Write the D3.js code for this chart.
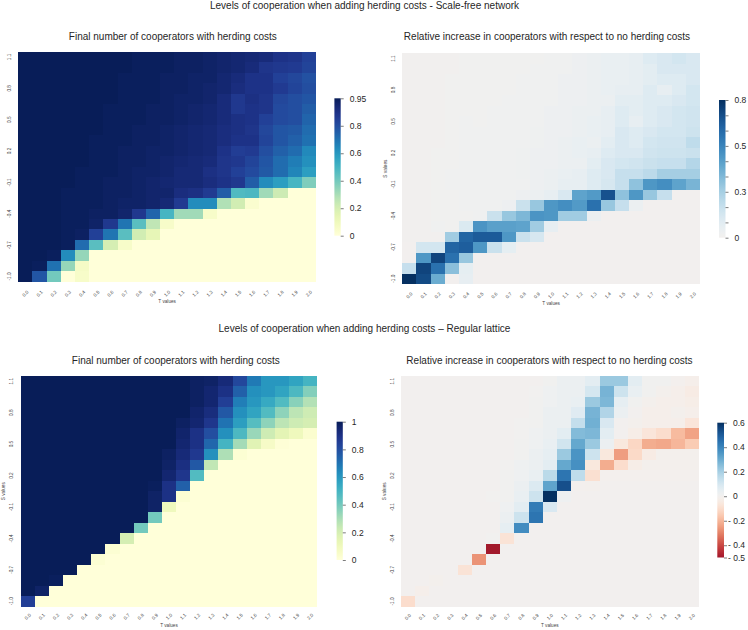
<!DOCTYPE html>
<html><head><meta charset="utf-8">
<script src="https://cdn.jsdelivr.net/npm/d3@7"></script>
<style>
body{margin:0;background:#fff}
svg{display:block}
text{font-family:"Liberation Sans",Arial,Helvetica,sans-serif}
</style>
</head><body>
<svg id="chart" width="748" height="630"></svg>
<script>
// ---------- axes categories ----------
const T_VALUES = ["0.0","0.1","0.2","0.3","0.4","0.5","0.6","0.7","0.8","0.9","1.0","1.1","1.2","1.3","1.4","1.5","1.6","1.7","1.8","1.9","2.0"];
const S_VALUES = ["1.1","1.0","0.9","0.8","0.7","0.6","0.5","0.4","0.3","0.2","0.1","0.0","-0.1","-0.2","-0.3","-0.4","-0.5","-0.6","-0.7","-0.8","-0.9","-1.0"];
const S_TICKS = ["1.1","0.8","0.5","0.2","-0.1","-0.4","-0.7","-1.0"];

// ---------- titles ----------
const SUPTITLE_SF = "Levels of cooperation when adding herding costs - Scale-free network";
const SUPTITLE_LAT = "Levels of cooperation when adding herding costs \u2013 Regular lattice";
const TITLE_FINAL = "Final number of cooperators with herding costs";
const TITLE_REL = "Relative increase in cooperators with respect to no herding costs";

// ---------- colorbar ticks ----------
const CB_SF_FINAL_TICKS = [0, 0.19, 0.38, 0.57, 0.76, 0.95];
const CB_SF_FINAL_LABELS = ["0","0.2","0.4","0.6","0.8","0.95"];
const CB_SF_REL_TICKS = [0, 0.0889, 0.1778, 0.2667, 0.3556, 0.4444, 0.5333, 0.6222, 0.7111, 0.8];
const CB_SF_REL_LABELS = ["0","","","0.3","","","0.5","","","0.8"];
const CB_LAT_FINAL_TICKS = [0, 0.2, 0.4, 0.6, 0.8, 1];
const CB_LAT_FINAL_LABELS = ["0","0.2","0.4","0.6","0.8","1"];
const CB_LAT_REL_TICKS = [-0.5, -0.4, -0.2, 0, 0.2, 0.4, 0.6];
const CB_LAT_REL_LABELS = ["- 0.5","- 0.4","- 0.2","0","0.2","0.4","0.6"];

// ---------- data (rows: S from 1.1 down to -1.0, cols: T 0.0..2.0) ----------
const sfFinal = [
[0.95,0.95,0.95,0.95,0.95,0.95,0.95,0.95,0.94,0.94,0.94,0.93,0.93,0.92,0.91,0.90,0.89,0.88,0.85,0.84,0.80],
[0.95,0.95,0.95,0.95,0.95,0.95,0.95,0.95,0.94,0.94,0.94,0.93,0.93,0.92,0.91,0.90,0.88,0.84,0.83,0.82,0.79],
[0.95,0.95,0.95,0.95,0.95,0.95,0.95,0.94,0.94,0.94,0.93,0.93,0.92,0.92,0.90,0.88,0.85,0.85,0.80,0.78,0.75],
[0.95,0.95,0.95,0.95,0.95,0.95,0.95,0.94,0.94,0.94,0.93,0.93,0.92,0.91,0.90,0.87,0.85,0.85,0.82,0.79,0.76],
[0.95,0.95,0.95,0.95,0.95,0.95,0.95,0.94,0.94,0.94,0.93,0.92,0.92,0.91,0.88,0.83,0.86,0.84,0.78,0.76,0.74],
[0.95,0.95,0.95,0.95,0.95,0.95,0.94,0.94,0.94,0.93,0.93,0.92,0.91,0.90,0.88,0.83,0.85,0.84,0.77,0.76,0.72],
[0.95,0.95,0.95,0.95,0.95,0.95,0.94,0.94,0.94,0.93,0.93,0.92,0.91,0.90,0.88,0.86,0.85,0.80,0.77,0.76,0.70],
[0.95,0.95,0.95,0.95,0.95,0.95,0.94,0.94,0.93,0.93,0.92,0.91,0.90,0.89,0.87,0.86,0.84,0.78,0.74,0.73,0.68],
[0.95,0.95,0.95,0.95,0.95,0.94,0.94,0.94,0.93,0.93,0.92,0.91,0.90,0.89,0.87,0.85,0.85,0.79,0.74,0.71,0.67],
[0.95,0.95,0.95,0.95,0.95,0.94,0.94,0.93,0.93,0.92,0.92,0.91,0.90,0.89,0.85,0.81,0.82,0.76,0.71,0.68,0.61],
[0.95,0.95,0.95,0.95,0.95,0.94,0.94,0.93,0.93,0.92,0.91,0.90,0.89,0.88,0.84,0.83,0.79,0.74,0.68,0.64,0.59],
[0.95,0.95,0.95,0.95,0.94,0.94,0.94,0.93,0.92,0.92,0.91,0.89,0.89,0.86,0.84,0.80,0.77,0.73,0.68,0.62,0.55],
[0.95,0.95,0.95,0.95,0.94,0.94,0.93,0.93,0.92,0.91,0.90,0.89,0.89,0.87,0.85,0.83,0.72,0.60,0.55,0.47,0.36],
[0.95,0.95,0.95,0.94,0.94,0.94,0.93,0.93,0.92,0.91,0.91,0.87,0.86,0.82,0.72,0.45,0.46,0.30,0.21,0,0],
[0.95,0.95,0.95,0.94,0.94,0.94,0.93,0.92,0.92,0.91,0.89,0.82,0.60,0.60,0.27,0.20,0.03,0,0,0,0],
[0.95,0.95,0.95,0.94,0.94,0.93,0.93,0.91,0.83,0.70,0.47,0.30,0.30,0.05,0,0,0,0,0,0,0],
[0.95,0.95,0.95,0.94,0.94,0.92,0.83,0.66,0.43,0.24,0.05,0,0,0,0,0,0,0,0,0,0],
[0.95,0.95,0.95,0.94,0.93,0.80,0.66,0.43,0.20,0.13,0,0,0,0,0,0,0,0,0,0,0],
[0.95,0.95,0.95,0.94,0.68,0.43,0.19,0.05,0,0,0,0,0,0,0,0,0,0,0,0,0],
[0.95,0.95,0.94,0.60,0.32,0,0,0,0,0,0,0,0,0,0,0,0,0,0,0,0],
[0.95,0.94,0.67,0.32,0.06,0,0,0,0,0,0,0,0,0,0,0,0,0,0,0,0],
[0.95,0.74,0.38,0,0.05,0,0,0,0,0,0,0,0,0,0,0,0,0,0,0,0]
];

const sfRelative = [
[0.005,0.005,0.005,0.005,0.01,0.01,0.01,0.01,0.01,0.01,0.015,0.02,0.03,0.04,0.05,0.05,0.06,0.10,0.12,0.14,0.12],
[0.005,0.005,0.005,0.005,0.01,0.01,0.01,0.01,0.01,0.015,0.02,0.02,0.03,0.04,0.05,0.05,0.06,0.08,0.12,0.12,0.12],
[0.005,0.005,0.005,0.01,0.01,0.01,0.01,0.01,0.015,0.02,0.02,0.03,0.03,0.04,0.05,0.05,0.06,0.08,0.10,0.10,0.12],
[0.005,0.005,0.005,0.01,0.01,0.01,0.01,0.01,0.015,0.02,0.02,0.03,0.03,0.04,0.05,0.06,0.06,0.10,0.06,0.10,0.14],
[0.005,0.005,0.005,0.01,0.01,0.01,0.01,0.015,0.015,0.02,0.02,0.03,0.03,0.04,0.04,0.08,0.08,0.10,0.10,0.12,0.14],
[0.005,0.005,0.005,0.01,0.01,0.01,0.015,0.015,0.02,0.02,0.03,0.03,0.04,0.04,0.06,0.10,0.08,0.10,0.12,0.14,0.15],
[0.005,0.005,0.005,0.01,0.015,0.01,0.015,0.015,0.02,0.02,0.03,0.03,0.04,0.05,0.06,0.10,0.06,0.10,0.12,0.14,0.15],
[0.005,0.005,0.005,0.01,0.015,0.015,0.015,0.02,0.02,0.025,0.03,0.03,0.04,0.05,0.06,0.12,0.10,0.12,0.14,0.14,0.16],
[0.005,0.005,0.005,0.01,0.015,0.015,0.015,0.02,0.02,0.025,0.03,0.04,0.05,0.04,0.08,0.12,0.10,0.14,0.15,0.15,0.20],
[0.005,0.005,0.01,0.01,0.015,0.015,0.02,0.02,0.025,0.03,0.03,0.04,0.05,0.06,0.10,0.12,0.12,0.15,0.16,0.16,0.17],
[0.005,0.005,0.01,0.01,0.015,0.015,0.02,0.02,0.025,0.03,0.03,0.04,0.04,0.08,0.12,0.14,0.15,0.17,0.18,0.18,0.23],
[0.005,0.005,0.01,0.015,0.015,0.02,0.02,0.02,0.025,0.03,0.04,0.05,0.06,0.10,0.12,0.18,0.18,0.21,0.27,0.27,0.27],
[0.005,0.005,0.01,0.015,0.015,0.02,0.02,0.02,0.02,0.03,0.04,0.06,0.06,0.10,0.13,0.18,0.32,0.47,0.50,0.43,0.37],
[0.005,0.005,0.01,0.01,0.015,0.015,0.02,0.02,0.03,0.04,0.06,0.12,0.43,0.46,0.70,0.32,0.47,0.30,0.18,0,0],
[0.005,0.005,0.01,0.01,0.015,0.015,0.02,0.03,0.17,0.30,0.47,0.50,0.46,0.60,0.30,0.18,0.04,0,0,0,0],
[0.005,0.005,0.01,0.01,0.01,0.02,0.17,0.30,0.36,0.48,0.47,0.28,0.28,0.04,0,0,0,0,0,0,0],
[0.005,0.005,0.02,0.01,0.11,0.48,0.44,0.44,0.43,0.28,0.06,0,0,0,0,0,0,0,0,0,0],
[0.005,0.005,0.005,0.28,0.64,0.67,0.67,0.47,0.17,0.13,0,0,0,0,0,0,0,0,0,0,0],
[0,0.14,0.14,0.64,0.66,0.47,0.17,0.07,0,0,0,0,0,0,0,0,0,0,0,0,0],
[0,0.47,0.74,0.60,0.30,0,0,0,0,0,0,0,0,0,0,0,0,0,0,0,0],
[0.18,0.74,0.60,0.33,0.07,0,0,0,0,0,0,0,0,0,0,0,0,0,0,0,0],
[0.80,0.72,0.40,0,0.06,0,0,0,0,0,0,0,0,0,0,0,0,0,0,0,0]
];

const latFinal = [
[1,1,1,1,1,1,1,1,1,1,1,1,0.98,0.97,0.93,0.82,0.68,0.60,0.60,0.56,0.50],
[1,1,1,1,1,1,1,1,1,1,1,1,0.98,0.95,0.90,0.75,0.62,0.60,0.56,0.48,0.37],
[1,1,1,1,1,1,1,1,1,1,1,1,0.98,0.95,0.85,0.67,0.60,0.54,0.47,0.36,0.28],
[1,1,1,1,1,1,1,1,1,1,1,1,0.96,0.92,0.77,0.62,0.56,0.47,0.35,0.26,0.22],
[1,1,1,1,1,1,1,1,1,1,1,0.98,0.95,0.88,0.70,0.58,0.46,0.35,0.26,0.22,0.20],
[1,1,1,1,1,1,1,1,1,1,1,0.96,0.90,0.80,0.62,0.48,0.33,0.22,0.15,0.10,0.03],
[1,1,1,1,1,1,1,1,1,1,1,0.95,0.90,0.73,0.50,0.31,0.16,0.06,0.01,0,0],
[1,1,1,1,1,1,1,1,1,1,0.98,0.93,0.87,0.62,0.29,0.02,0,0,0,0,0],
[1,1,1,1,1,1,1,1,1,1,0.97,0.91,0.77,0.25,0,0,0,0,0,0,0],
[1,1,1,1,1,1,1,1,1,1,0.95,0.88,0.47,0,0,0,0,0,0,0,0],
[1,1,1,1,1,1,1,1,1,0.99,0.90,0.75,0,0,0,0,0,0,0,0,0],
[1,1,1,1,1,1,1,1,1,0.97,0.90,0.02,0,0,0,0,0,0,0,0,0],
[1,1,1,1,1,1,1,1,1,0.97,0.10,0,0,0,0,0,0,0,0,0,0],
[1,1,1,1,1,1,1,1,1,0.40,0,0,0,0,0,0,0,0,0,0,0],
[1,1,1,1,1,1,1,1,0.40,0,0,0,0,0,0,0,0,0,0,0,0],
[1,1,1,1,1,1,1,0.20,0,0,0,0,0,0,0,0,0,0,0,0,0],
[1,1,1,1,1,1,0.02,0,0,0,0,0,0,0,0,0,0,0,0,0,0],
[1,1,1,1,1,0.02,0,0,0,0,0,0,0,0,0,0,0,0,0,0,0],
[1,1,1,1,0,0,0,0,0,0,0,0,0,0,0,0,0,0,0,0,0],
[1,1,0.99,0,0,0,0,0,0,0,0,0,0,0,0,0,0,0,0,0,0],
[1,0.97,0,0,0,0,0,0,0,0,0,0,0,0,0,0,0,0,0,0,0],
[0.85,0,0,0,0,0,0,0,0,0,0,0,0,0,0,0,0,0,0,0,0]
];

const latRelative = [
[0,0,0,0,0,0,0,0,0,0,0.01,0.03,0.03,0.06,0.22,0.22,0.06,0.01,0.01,-0.005,-0.02],
[0,0,0,0,0,0,0,0,0,0.005,0.02,0.03,0.03,0.10,0.28,0.12,0.04,0.01,-0.01,-0.02,-0.04],
[0,0,0,0,0,0,0,0,0,0.01,0.02,0.03,0.04,0.22,0.27,0.05,0.01,-0.01,-0.02,-0.02,-0.03],
[0,0,0,0,0,0,0,0,0,0.01,0.03,0.03,0.07,0.28,0.18,0.03,0,-0.02,-0.02,-0.01,-0.02],
[0,0,0,0,0,0,0,0,0.005,0.01,0.03,0.03,0.14,0.29,0.09,0,-0.01,-0.02,-0.02,-0.02,-0.07],
[0,0,0,0,0,0,0,0,0.005,0.02,0.03,0.06,0.26,0.27,0.06,0,-0.03,-0.07,-0.10,-0.19,-0.24],
[0,0,0,0,0,0,0,0,0.01,0.02,0.04,0.11,0.31,0.22,0.03,-0.06,-0.12,-0.22,-0.23,-0.20,-0.15],
[0,0,0,0,0,0,0,0,0.01,0.03,0.05,0.22,0.36,0.12,-0.06,-0.25,-0.11,-0.04,-0.01,-0.01,-0.01],
[0,0,0,0,0,0,0,0.005,0.02,0.03,0.06,0.31,0.37,-0.06,-0.22,-0.10,-0.03,-0.01,-0.01,-0.01,-0.01],
[0,0,0,0,0,0,0,0.01,0.02,0.04,0.16,0.44,0.15,-0.09,-0.005,-0.005,-0.005,-0.005,-0.005,-0.005,-0.005],
[0,0,0,0,0,0,0,0.01,0.03,0.08,0.32,0.53,-0.005,-0.01,0,0,0,0,0,0,0],
[0,0,0,0,0,0,0.005,0.01,0.04,0.12,0.60,0.02,0,0,0,0,0,0,0,0,0],
[0,0,0,0,0,0,0,0.02,0.06,0.42,0.09,0,0,0,0,0,0,0,0,0,0],
[0,0,0,0,0,0,0,0.03,0.12,0.44,0,0,0,0,0,0,0,0,0,0,0],
[0,0,0,0,0,0,0,0.05,0.38,0,0,0,0,0,0,0,0,0,0,0,0],
[0,0,0,0,0,0,0.005,-0.08,0,0,0,0,0,0,0,0,0,0,0,0,0],
[0,0,0,0,0,0,-0.50,0,0,0,0,0,0,0,0,0,0,0,0,0,0],
[0,0,0,0,0,-0.27,0,0,0,0,0,0,0,0,0,0,0,0,0,0,0],
[0,0,0,0,-0.08,0,0,0,0,0,0,0,0,0,0,0,0,0,0,0,0],
[0,0,-0.01,0,0,0,0,0,0,0,0,0,0,0,0,0,0,0,0,0,0],
[0,-0.02,0,0,0,0,0,0,0,0,0,0,0,0,0,0,0,0,0,0,0],
[-0.10,0,0,0,0,0,0,0,0,0,0,0,0,0,0,0,0,0,0,0,0]
];

// ---------- colour maps ----------
const clamp01 = t => Math.max(0, Math.min(1, t));
const cmapSfFinal = v => d3.interpolateYlGnBu(clamp01(v / 0.95));
const cmapSfRel = v => d3.interpolateRdBu(clamp01(0.5 + v / 1.6));
const cmapLatFinal = v => d3.interpolateYlGnBu(clamp01(v / 1));
const cmapLatRel = v => d3.interpolateRdBu(clamp01((v + 0.6) / 1.2));

const FONT = '"Liberation Sans",Arial,Helvetica,sans-serif';
const svg = d3.select("#chart");

const panels = [
  {id:"p1", data: sfFinal, color: cmapSfFinal, title: TITLE_FINAL, titleX:172.8, titleY:39.5,
   x:18.3, y:51.7, w:297.7, h:230, xtOff:11.8, ytOff:-7.2, xlOff:21.6, slabel:false,
   cb:{x:334.4, y:98.3, w:6.3, h:137.4, domain:[0,0.95], ticks:CB_SF_FINAL_TICKS, labels:CB_SF_FINAL_LABELS}},
  {id:"p2", data: sfRelative, color: cmapSfRel, title: TITLE_REL, titleX:547, titleY:39.5,
   x:402.3, y:53.3, w:297.7, h:230.7, xtOff:11.2, ytOff:-7.2, xlOff:20.5, slabel:true, slOff:-15.5,
   cb:{x:719, y:100, w:6.5, h:137.7, domain:[0,0.8], ticks:CB_SF_REL_TICKS, labels:CB_SF_REL_LABELS}},
  {id:"p3", data: latFinal, color: cmapLatFinal, title: TITLE_FINAL, titleX:175.8, titleY:363.8,
   x:20.7, y:376, w:296.6, h:230.5, xtOff:10, ytOff:-7.8, xlOff:20.6, slabel:true, slOff:-16,
   cb:{x:336.6, y:421.7, w:6.2, h:138.3, domain:[0,1], ticks:CB_LAT_FINAL_TICKS, labels:CB_LAT_FINAL_LABELS}},
  {id:"p4", data: latRelative, color: cmapLatRel, title: TITLE_REL, titleX:549.5, titleY:363.8,
   x:400.7, y:376, w:298.3, h:230.7, xtOff:10, ytOff:-6.4, xlOff:20.6, slabel:true, slOff:-14.4,
   cb:{x:717.3, y:422.7, w:6.7, h:134.8, domain:[-0.5,0.6], ticks:CB_LAT_REL_TICKS, labels:CB_LAT_REL_LABELS}}
];

const defs = svg.append("defs");

function drawPanel(p) {
  const x = d3.scaleBand().domain(T_VALUES).range([p.x, p.x + p.w]);
  const y = d3.scaleBand().domain(S_VALUES).range([p.y, p.y + p.h]);
  const cells = [];
  p.data.forEach((row, i) => row.forEach((v, j) => cells.push({s: S_VALUES[i], t: T_VALUES[j], v})));
  const bx = x.bandwidth(), by = y.bandwidth();

  svg.append("g").attr("shape-rendering", "crispEdges")
    .selectAll("rect").data(cells).join("rect")
    .attr("x", d => Math.round(x(d.t)))
    .attr("y", d => Math.round(y(d.s)))
    .attr("width", d => Math.round(x(d.t) + bx) - Math.round(x(d.t)))
    .attr("height", d => Math.round(y(d.s) + by) - Math.round(y(d.s)))
    .attr("fill", d => p.color(d.v));

  // x axis
  const xa = svg.append("g").attr("transform", `translate(0,${p.y + p.h})`)
    .call(d3.axisBottom(x).tickSize(0).tickPadding(0));
  xa.attr("font-family", FONT);
  xa.select(".domain").remove();
  xa.selectAll("text").attr("y", 0).attr("dy", "0.35em")
    .attr("transform", `translate(0,${p.xtOff}) rotate(-45)`)
    .attr("text-anchor", "middle").attr("font-size", 4.7).attr("fill", "#444");

  // y axis
  const ya = svg.append("g").attr("transform", `translate(${p.x},0)`)
    .call(d3.axisLeft(y).tickValues(S_TICKS).tickSize(0));
  ya.attr("font-family", FONT);
  ya.select(".domain").remove();
  ya.selectAll("text").attr("x", 0).attr("dy", 0)
    .attr("transform", `translate(${p.ytOff},0) rotate(-90)`)
    .attr("text-anchor", "middle").attr("font-size", 4.7).attr("fill", "#444");

  // axis labels
  svg.append("text").attr("x", p.x + p.w / 2).attr("y", p.y + p.h + p.xlOff)
    .attr("text-anchor", "middle").attr("font-size", 4.7).attr("fill", "#444").text("T values");
  if (p.slabel) {
    svg.append("text").attr("transform", `translate(${p.x + p.slOff},${p.y + p.h / 2}) rotate(-90)`)
      .attr("text-anchor", "middle").attr("font-size", 4.7).attr("fill", "#444").text("S values");
  }

  // title
  svg.append("text").attr("x", p.titleX).attr("y", p.titleY).attr("text-anchor", "middle")
    .attr("font-size", 10).attr("fill", "#262626").text(p.title);

  // colorbar
  const cb = p.cb;
  const grad = defs.append("linearGradient").attr("id", "g" + p.id)
    .attr("x1", 0).attr("y1", 1).attr("x2", 0).attr("y2", 0);
  const N = 60;
  for (let i = 0; i <= N; i++) {
    const v = cb.domain[0] + (cb.domain[1] - cb.domain[0]) * i / N;
    grad.append("stop").attr("offset", i / N).attr("stop-color", p.color(v));
  }
  svg.append("rect").attr("x", cb.x).attr("y", cb.y).attr("width", cb.w).attr("height", cb.h)
    .attr("fill", `url(#g${p.id})`);
  const cs = d3.scaleLinear().domain(cb.domain).range([cb.y + cb.h, cb.y]);
  const ca = svg.append("g").attr("transform", `translate(${cb.x + cb.w},0)`)
    .call(d3.axisRight(cs).tickValues(cb.ticks).tickFormat((d, i) => cb.labels[i]).tickSize(3).tickPadding(5));
  ca.attr("font-family", FONT);
  ca.select(".domain").remove();
  ca.selectAll("line").attr("stroke", "#444").attr("stroke-width", 0.7);
  ca.selectAll("text").attr("font-size", 8.5).attr("fill", "#262626")
    .each(function() {
      const t = d3.select(this);
      const s = t.text();
      if (s.startsWith("- ")) {
        const w = this.getSubStringLength(0, 2);
        t.attr("x", 9.3 - w);
      } else {
        t.attr("x", 9);
      }
    });
}

panels.forEach(drawPanel);

// suptitles
svg.append("text").attr("x", 364.5).attr("y", 8.9).attr("text-anchor", "middle")
  .attr("font-size", 10).attr("fill", "#262626").text(SUPTITLE_SF);
svg.append("text").attr("x", 364.5).attr("y", 332.3).attr("text-anchor", "middle")
  .attr("font-size", 10).attr("fill", "#262626").text(SUPTITLE_LAT);
</script>
</body></html>
